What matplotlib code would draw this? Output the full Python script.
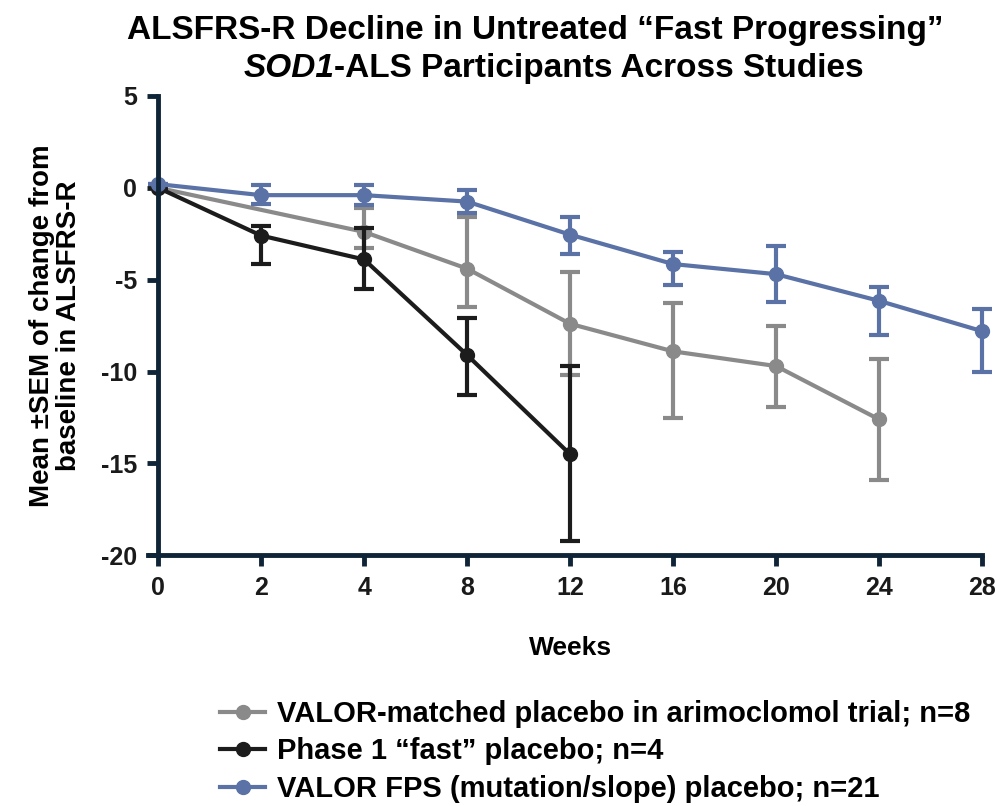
import matplotlib
matplotlib.use("Agg")
import matplotlib.pyplot as plt
from matplotlib.lines import Line2D

plt.rcParams['font.family'] = ['Liberation Sans', 'DejaVu Sans']
plt.rcParams['font.weight'] = 'bold'
plt.rcParams['axes.unicode_minus'] = False

# Visit weeks shown on the (evenly spaced) x axis
weeks = [0, 2, 4, 8, 12, 16, 20, 24, 28]

# VALOR-matched placebo in arimoclomol trial (no week 2 visit)
gray_weeks = [0, 4, 8, 12, 16, 20, 24]
gray_mean = [0.0, -2.4, -4.4, -7.4, -8.9, -9.7, -12.6]
gray_hi = [0.0, -1.1, -1.6, -4.6, -6.25, -7.5, -9.3]
gray_lo = [0.0, -3.3, -6.5, -10.2, -12.55, -11.95, -15.9]

# Phase 1 "fast" placebo
black_weeks = [0, 2, 4, 8, 12]
black_mean = [0.0, -2.6, -3.9, -9.1, -14.5]
black_hi = [0.0, -2.1, -2.2, -7.1, -9.7]
black_lo = [0.0, -4.15, -5.5, -11.25, -19.2]

# VALOR FPS (mutation/slope) placebo
blue_weeks = [0, 2, 4, 8, 12, 16, 20, 24, 28]
blue_mean = [0.2, -0.4, -0.4, -0.75, -2.55, -4.15, -4.7, -6.15, -7.8]
blue_hi = [0.2, 0.15, 0.15, -0.1, -1.6, -3.5, -3.15, -5.4, -6.6]
blue_lo = [0.2, -0.9, -0.95, -1.35, -3.6, -5.3, -6.2, -8.0, -10.0]

labels = ['VALOR-matched placebo in arimoclomol trial; n=8',
          'Phase 1 \u201cfast\u201d placebo; n=4',
          'VALOR FPS (mutation/slope) placebo; n=21']
colors = ['#8a8a8a', '#1c1c1c', '#5a72a6']

axis_color = '#0f2537'

fig = plt.figure(figsize=(10.01, 8.06), dpi=100)
ax = fig.add_axes([0.158, 0.311, 0.823, 0.570])


def pos(wk_list):
    # weeks are plotted as evenly spaced categories
    return [weeks.index(w) for w in wk_list]


series = [
    (gray_weeks, gray_mean, gray_lo, gray_hi),
    (black_weeks, black_mean, black_lo, black_hi),
    (blue_weeks, blue_mean, blue_lo, blue_hi),
]

for i, (wk, m, lo, hi) in enumerate(series):
    yerr = [[a - b for a, b in zip(m, lo)], [b - a for a, b in zip(m, hi)]]
    line, caps, bars = ax.errorbar(pos(wk), m, yerr=yerr, color=colors[i], lw=3.0,
                                   marker='o', ms=10, elinewidth=3.0, capsize=7,
                                   capthick=3.0, zorder=3 + i)
    for art in [line, *caps, *bars]:
        art.set_clip_on(False)

ax.set_xlim(0, len(weeks) - 1)
ax.set_ylim(-20, 5)
ax.set_xticks(range(len(weeks)))
ax.set_xticklabels([str(w) for w in weeks])
ax.set_yticks([5, 0, -5, -10, -15, -20])

for side in ['top', 'right']:
    ax.spines[side].set_visible(False)
for side in ['left', 'bottom']:
    ax.spines[side].set_linewidth(3.5)
    ax.spines[side].set_color(axis_color)
    ax.spines[side].set_zorder(10)
ax.spines['bottom'].set_bounds(-0.1, len(weeks) - 1)

ax.tick_params(axis='both', direction='out', length=8, width=3.5,
               color=axis_color, labelsize=18, labelcolor='#1a1a1a', pad=7)
for t in ax.get_xticklabels() + ax.get_yticklabels():
    t.set_fontweight('bold')

ax.set_xlabel('Weeks', fontsize=19, fontweight='bold', labelpad=26)
ax.set_ylabel('Mean \u00b1SEM of change from\nbaseline in ALSFRS-R',
              fontsize=20, fontweight='bold', labelpad=14, linespacing=1.05)

# Two-line title, second line starts with italic gene name
fig.text(0.535, 0.962, 'ALSFRS-R Decline in Untreated \u201cFast Progressing\u201d',
         ha='center', va='center', fontsize=24, fontweight='bold')
part1 = fig.text(0, 0.915, 'SOD1', ha='left', va='center', fontsize=24,
                 fontweight='bold', style='italic')
part2 = fig.text(0, 0.915, '-ALS Participants Across Studies', ha='left',
                 va='center', fontsize=24, fontweight='bold')
fig.canvas.draw()
r = fig.canvas.get_renderer()
w1 = part1.get_window_extent(r).width / fig.bbox.width
w2 = part2.get_window_extent(r).width / fig.bbox.width
x0 = 0.553 - (w1 + w2) / 2
part1.set_x(x0)
part2.set_x(x0 + w1)

handles = [Line2D([], [], color=c, lw=3.0, marker='o', ms=10) for c in colors]
fig.legend(handles, labels, loc='upper left', bbox_to_anchor=(0.194, 0.164),
           frameon=False, handlelength=1.54, handletextpad=0.4,
           labelspacing=0.32, borderpad=0.4, prop={'weight': 'bold', 'size': 21})

fig.savefig('out.png', dpi=100)
